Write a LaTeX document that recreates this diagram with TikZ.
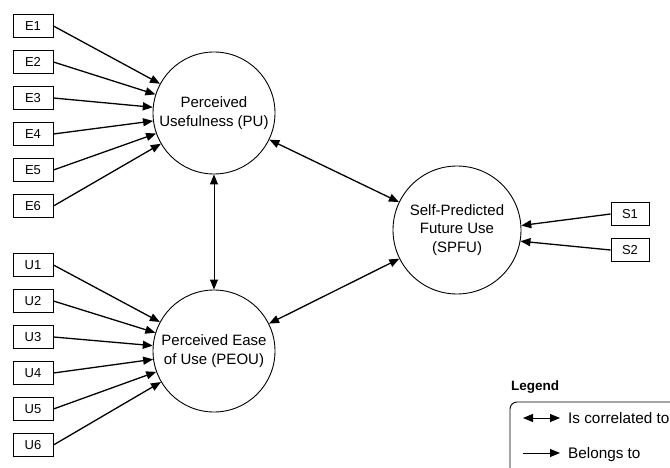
\documentclass[tikz,border=0pt]{standalone}
\usepackage{fontspec}
\setmainfont{Liberation Sans}
\usetikzlibrary{arrows.meta}
\begin{document}
\begin{tikzpicture}[x=1pt,y=-1pt,
  ind/.style={draw, line width=0.9pt, minimum width=40pt, minimum height=23pt, inner sep=0pt, font=\fontsize{13}{15}\selectfont},
  lat/.style={draw, circle, line width=0.9pt, minimum size=122pt, inner sep=0pt, align=center, font=\fontsize{15}{18.5}\selectfont},
  arr/.style={line width=1.3pt, -{Triangle[length=10pt,width=8pt]}},
  darr/.style={line width=1.3pt, {Triangle[length=10pt,width=8pt]}-{Triangle[length=10pt,width=8pt]}},
  legtext/.style={anchor=base west, inner sep=0pt, font=\fontsize{15.3}{18}\selectfont}
]
\useasboundingbox (0,0) rectangle (670,468);
\clip (0,0) rectangle (670,468);
\fill[white] (0,0) rectangle (670,468);

% latent constructs
\node[lat] (PU) at (214,113) {Perceived\\Usefulness (PU)};
\node[lat] (PEOU) at (214,351) {Perceived Ease\\of Use (PEOU)};
\node[lat, minimum size=128pt] (SPFU) at (457,230) {Self-Predicted\\Future Use\\(SPFU)};

% indicators
\foreach \i/\y in {1/26,2/62,3/98,4/134,5/170,6/206}{
  \node[ind] (E\i) at (33,\y) {E\i};
  \draw[arr] (E\i.east) -- (PU);
}
\foreach \i/\y in {1/265,2/301,3/337,4/373,5/409,6/445}{
  \node[ind] (U\i) at (33,\y) {U\i};
  \draw[arr] (U\i.east) -- (PEOU);
}
\node[ind, minimum width=38pt] (S1) at (630,214) {S1};
\node[ind, minimum width=38pt] (S2) at (630,250) {S2};
\draw[arr] (S1.west) -- (SPFU.4);
\draw[arr] (S2.west) -- (SPFU.-10);

% correlations
\draw[darr, line width=1pt] (PU) -- (PEOU);
\draw[darr] (PU) -- (SPFU);
\draw[darr] (PEOU) -- (SPFU);

% legend
\node[anchor=base west, inner sep=0pt, font=\bfseries\fontsize{13.5}{15}\selectfont] (legtitle) at (511,390) {Legend};
\draw[line width=0.9pt, rounded corners=7pt] (510,402) rectangle (700,500);
\coordinate (la1) at (523,418);
\coordinate (lb1) at (560,418);
\coordinate (la2) at (523,453);
\coordinate (lb2) at (560,453);
\draw[darr, line width=1pt] (la1) -- (lb1);
\draw[arr, line width=1pt] (la2) -- (lb2);
\node[legtext] (lt1) at (568,423) {Is correlated to};
\node[legtext] (lt2) at (568,458) {Belongs to};
\end{tikzpicture}
\end{document}
